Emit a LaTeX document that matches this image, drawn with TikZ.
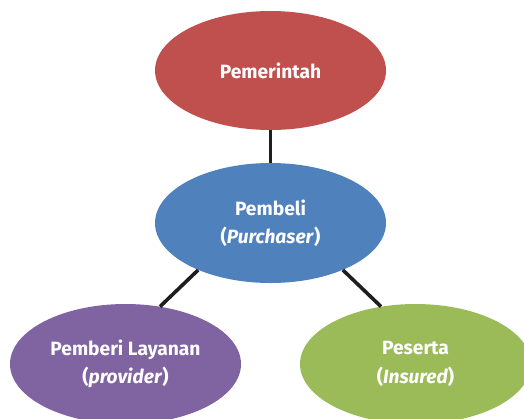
\documentclass[tikz,border=0pt]{standalone}
\usepackage{fontspec}
\setmainfont{Fira Sans}
\usetikzlibrary{shapes.geometric}
\definecolor{cred}{HTML}{C0504D}
\definecolor{cblue}{HTML}{4F81BD}
\definecolor{cpurple}{HTML}{8064A2}
\definecolor{cgreen}{HTML}{9BBB59}
\definecolor{cline}{HTML}{1E1E1E}
\begin{document}
\begin{tikzpicture}[x=1pt,y=-1pt,
  bubble/.style={ellipse, draw=none, minimum width=231pt, minimum height=120pt, inner sep=0pt,
    text=white, font=\fontsize{19.2}{28.5}\selectfont\bfseries, align=center},
  link/.style={draw=cline, line width=3.6pt}]
\useasboundingbox (0,0) rectangle (524,418);
\node[bubble, fill=cred, minimum height=119pt] (pemerintah) at (270.5,70.5) {Pemerintah};
\node[bubble, fill=cblue] (pembeli) at (270.5,223) {Pembeli\\(\textit{Purchaser})};
\node[bubble, fill=cpurple] (pemberi) at (125.5,364) {Pemberi Layanan\\(\textit{provider})};
\node[bubble, fill=cgreen] (peserta) at (415.5,364) {Peserta\\(\textit{Insured})};
\draw[link] (pemerintah.south) -- (pembeli.north);
\draw[link] (pembeli.213) -- (pemberi.59);
\draw[link] (pembeli.327) -- (peserta.121);
\end{tikzpicture}
\end{document}
